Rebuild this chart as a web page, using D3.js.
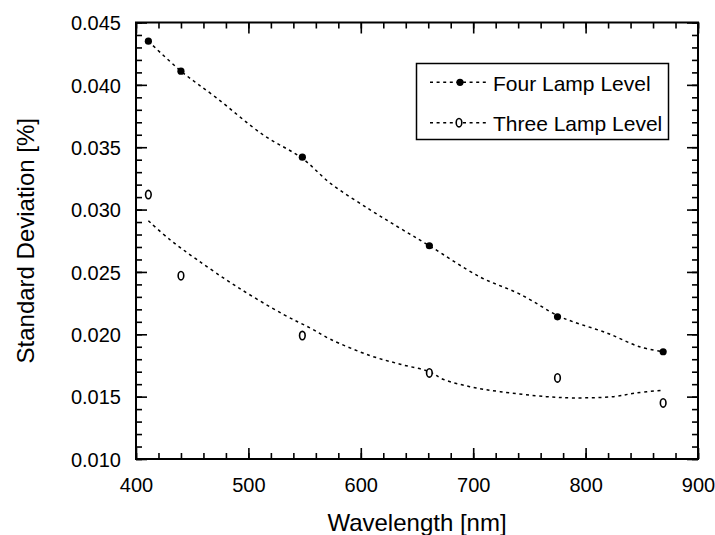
<!DOCTYPE html>
<html>
<head>
<meta charset="utf-8">
<script src="https://cdn.jsdelivr.net/npm/d3@7"></script>
<style>
  html, body { margin: 0; padding: 0; background: #fff; }
  svg { display: block; }
  text { font-family: "Liberation Sans", Arial, Helvetica, sans-serif; fill: #000; }
</style>
</head>
<body>
<svg id="chart" width="715" height="535"></svg>
<script>
// Measured wavelengths and standard deviations
const wavelengths = [411, 440, 548, 661, 775, 869];
const fourLamp = [0.0435, 0.0411, 0.0342, 0.0271, 0.0214, 0.0186];
const threeLamp = [0.0312, 0.0247, 0.0199, 0.0169, 0.0165, 0.0145];

// Smoothed trend curves (wavelength, value)
const fourLampFitX = [411, 440, 471, 513, 548, 573, 608, 635, 661, 706, 742, 775, 789, 819, 848, 869];
const fourLampFitY = [0.0435, 0.0411, 0.0390, 0.0360, 0.0341, 0.0321, 0.0300, 0.0285, 0.0271, 0.0246, 0.0232, 0.0215, 0.0210, 0.0201, 0.0190, 0.0186];
const threeLampFitX = [411, 430, 454, 490, 531, 555, 573, 608, 635, 661, 673, 697, 724, 765, 789, 825, 845, 868];
const threeLampFitY = [0.0291, 0.0276, 0.0260, 0.0238, 0.0216, 0.0205, 0.0196, 0.0183, 0.0176, 0.0170, 0.0164, 0.0158, 0.0154, 0.0150, 0.0149, 0.0150, 0.0153, 0.0155];

// Axis ticks
const xTicks = [400, 500, 600, 700, 800, 900];
const yTicks = [0.010, 0.015, 0.020, 0.025, 0.030, 0.035, 0.040, 0.045];
const seriesNames = ["Four Lamp Level", "Three Lamp Level"];

const svg = d3.select("#chart");
const plotL = 136, plotR = 698, plotT = 22.5, plotB = 459;

const x = d3.scaleLinear().domain([400, 900]).range([plotL, plotR]);
const y = d3.scaleLinear().domain([0.010, 0.045]).range([plotB, plotT]);

const xMinor = d3.range(400, 901, 20);
const yMinor = d3.range(10, 46, 1).map(v => v / 1000);

const majorLen = 11, minorLen = 6;
const tickW = 1.6;

// Axes: ticks point inward on all four sides
function tickAxis(axisGen, tr, values, len) {
  const g = svg.append("g").attr("transform", tr)
    .call(axisGen.tickValues(values).tickSize(len).tickFormat(""));
  g.select(".domain").remove();
  g.selectAll(".tick line").attr("stroke", "#000").attr("stroke-width", tickW);
  return g;
}
tickAxis(d3.axisTop(x), `translate(0,${plotB})`, xMinor, minorLen);
tickAxis(d3.axisTop(x), `translate(0,${plotB})`, xTicks, majorLen);
tickAxis(d3.axisBottom(x), `translate(0,${plotT})`, xMinor, minorLen);
tickAxis(d3.axisBottom(x), `translate(0,${plotT})`, xTicks, majorLen);
tickAxis(d3.axisRight(y), `translate(${plotL},0)`, yMinor, minorLen);
tickAxis(d3.axisRight(y), `translate(${plotL},0)`, yTicks, majorLen);
tickAxis(d3.axisLeft(y), `translate(${plotR},0)`, yMinor, minorLen);
tickAxis(d3.axisLeft(y), `translate(${plotR},0)`, yTicks, majorLen);

// Frame
svg.append("rect")
  .attr("x", plotL).attr("y", plotT)
  .attr("width", plotR - plotL).attr("height", plotB - plotT)
  .attr("fill", "none").attr("stroke", "#000").attr("stroke-width", 2);

// Tick labels
const xLab = svg.append("g").attr("transform", `translate(0,${plotB})`)
  .call(d3.axisBottom(x).tickValues(xTicks).tickSize(0).tickPadding(33).tickFormat(d3.format("d")));
xLab.select(".domain").remove();
xLab.selectAll("text").attr("font-size", 20).attr("font-family", "Liberation Sans, Arial, sans-serif").attr("dy", 0);

const yLab = svg.append("g").attr("transform", `translate(${plotL},0)`)
  .call(d3.axisLeft(y).tickValues(yTicks).tickSize(0).tickPadding(15).tickFormat(d3.format(".3f")));
yLab.select(".domain").remove();
yLab.selectAll("text").attr("font-size", 20).attr("font-family", "Liberation Sans, Arial, sans-serif").attr("dy", "0.36em");

// Axis titles
svg.append("text")
  .attr("x", (plotL + plotR) / 2).attr("y", 531)
  .attr("text-anchor", "middle").attr("font-size", 24)
  .text("Wavelength [nm]");
svg.append("text")
  .attr("transform", `translate(34,${(plotT + plotB) / 2}) rotate(-90)`)
  .attr("text-anchor", "middle").attr("font-size", 24)
  .text("Standard Deviation [%]");

// Trend curves
const line = d3.line().x(d => x(d[0])).y(d => y(d[1])).curve(d3.curveCatmullRom.alpha(0.5));
const dash = "3,3.6";
svg.append("path")
  .datum(d3.zip(fourLampFitX, fourLampFitY))
  .attr("d", line).attr("fill", "none").attr("stroke", "#000")
  .attr("stroke-width", 1.5).attr("stroke-dasharray", dash);
svg.append("path")
  .datum(d3.zip(threeLampFitX, threeLampFitY))
  .attr("d", line).attr("fill", "none").attr("stroke", "#000")
  .attr("stroke-width", 1.5).attr("stroke-dasharray", dash);

// Markers
svg.append("g").selectAll("circle")
  .data(d3.zip(wavelengths, fourLamp))
  .join("circle")
  .attr("cx", d => x(d[0])).attr("cy", d => y(d[1]))
  .attr("r", 3.6).attr("fill", "#000");
svg.append("g").selectAll("ellipse")
  .data(d3.zip(wavelengths, threeLamp))
  .join("ellipse")
  .attr("cx", d => x(d[0])).attr("cy", d => y(d[1]))
  .attr("rx", 2.8).attr("ry", 4.2)
  .attr("fill", "#fff").attr("stroke", "#000").attr("stroke-width", 1.6);

// Legend
const lg = svg.append("g");
lg.append("rect")
  .attr("x", 416.5).attr("y", 63.5).attr("width", 252).attr("height", 76)
  .attr("fill", "#fff").attr("stroke", "#000").attr("stroke-width", 1.5);
const rows = [82.3, 122.7];
seriesNames.forEach((name, i) => {
  const ly = rows[i];
  lg.append("line")
    .attr("x1", 430).attr("x2", 488).attr("y1", ly).attr("y2", ly)
    .attr("stroke", "#000").attr("stroke-width", 1.5).attr("stroke-dasharray", dash);
  if (i === 0) {
    lg.append("circle").attr("cx", 460).attr("cy", ly).attr("r", 3.6).attr("fill", "#000");
  } else {
    lg.append("ellipse").attr("cx", 459).attr("cy", ly).attr("rx", 2.8).attr("ry", 4.2)
      .attr("fill", "#fff").attr("stroke", "#000").attr("stroke-width", 1.6);
  }
  lg.append("text")
    .attr("x", 493).attr("y", ly + 8.5)
    .attr("font-size", 21)
    .text(name);
});
</script>
</body>
</html>
